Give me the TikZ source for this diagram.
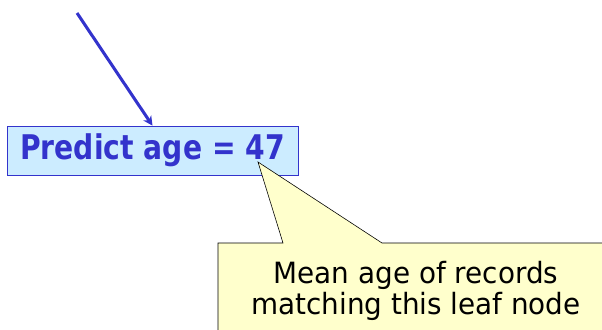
\documentclass[tikz,border=0pt]{standalone}
\usepackage{fontspec}
\setmainfont{DejaVu Sans}
\newfontfamily\tahomabold[FakeStretch=0.83]{DejaVu Sans Bold}
\newfontfamily\tahomalike[FakeStretch=0.95]{DejaVu Sans}
\definecolor{predblue}{HTML}{3333CC}
\definecolor{predfill}{HTML}{CCECFF}
\definecolor{notefill}{HTML}{FFFFCC}
\tikzset{
  leafbox/.style={draw=predblue, fill=predfill, line width=0.6pt, inner sep=0pt,
    minimum width=8.73cm, minimum height=1.47cm,
    font=\tahomabold\fontsize{29}{34}\selectfont, text=predblue},
  notetext/.style={align=center, inner sep=0pt,
    font=\tahomalike\fontsize{25}{26.5}\selectfont},
  notebox/.style={draw=black, fill=notefill, line width=0.5pt, line join=miter},
  flow/.style={draw=predblue, line width=2.6pt, -{Stealth[length=8pt,width=8pt]}}
}
\usetikzlibrary{arrows.meta}
\begin{document}
\begin{tikzpicture}[x=0.03cm, y=-0.03cm]
    \useasboundingbox (0,0) rectangle (602,330);

    % Leaf node
    \node[leafbox] (pred) at (152.5,150.5) {Predict age = 47};
    \coordinate (src) at (77,13);
    \draw[flow] (src) -- (pred.north);

    % Callout
    \coordinate (tip) at (258,162);
    \draw[notebox] (218,360) -- (218,243) -- (283,243) -- (tip) -- (382,243)
        -- (640,243) -- (640,360) -- cycle;
    \node[notetext] (note) at (416,291) {Mean age of records\\matching this leaf node};
\end{tikzpicture}
\end{document}
